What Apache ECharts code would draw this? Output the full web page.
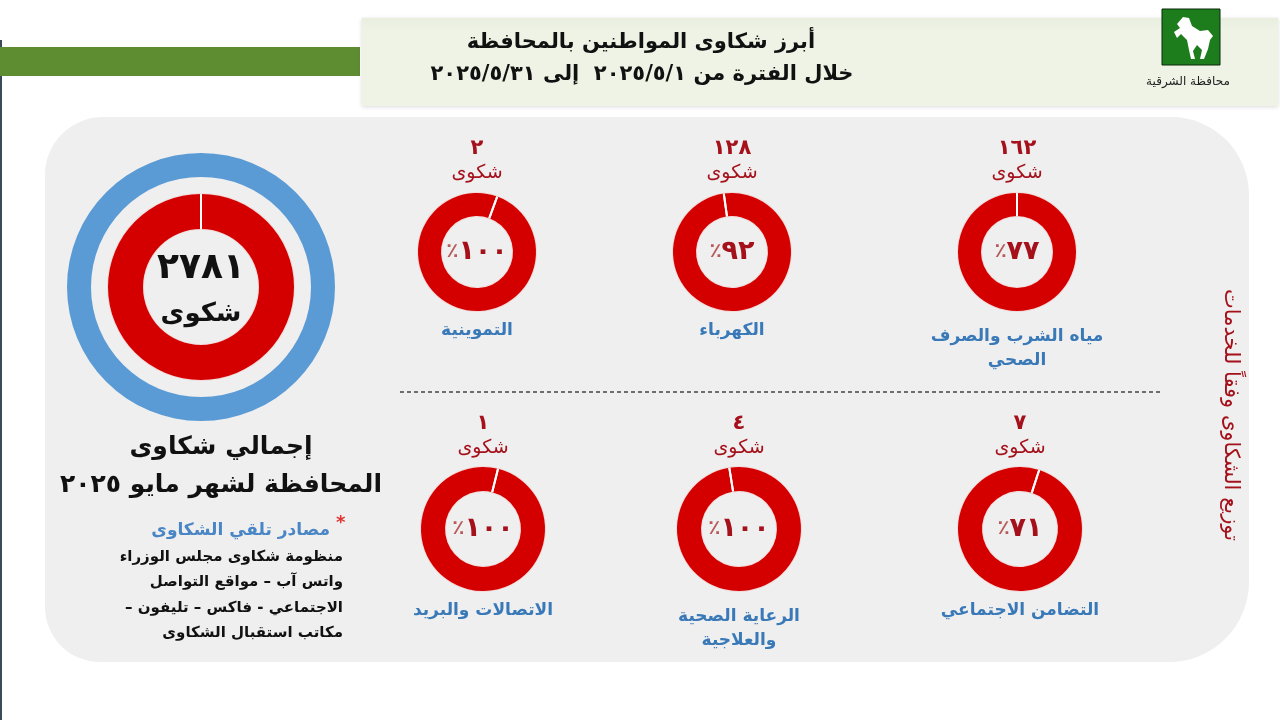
<!DOCTYPE html>
<html>
<head>
<meta charset="utf-8">
<script src="https://cdn.jsdelivr.net/npm/echarts@6/dist/echarts.min.js"></script>
<style>
html,body{margin:0;padding:0;background:#ffffff;}
#chart{width:1280px;height:720px;}
</style>
</head>
<body>
<div id="chart"></div>
<script>
// ---------- data ----------
const titleLine1 = 'أبرز شكاوى المواطنين بالمحافظة';
const titleLine2 = 'خلال الفترة من ٢٠٢٥/٥/١  إلى ٢٠٢٥/٥/٣١';
const logoText = 'محافظة الشرقية';
const categories = ['مياه الشرب والصرف\nالصحي', 'الكهرباء', 'التموينية', 'التضامن الاجتماعي', 'الرعاية الصحية\nوالعلاجية', 'الاتصالات والبريد'];
const complaintCounts = [162, 128, 2, 7, 4, 1];
const resolvedPct = [77, 92, 100, 71, 100, 100];
const totalComplaints = 2781;
const unitWord = 'شكوى';
const sideTitle = 'توزيع الشكاوى وفقاً للخدمات';
const totalTitle = 'إجمالي شكاوى\nالمحافظة لشهر مايو ٢٠٢٥';
const sourcesTitle = 'مصادر تلقي الشكاوى';
const sourcesLines = ['منظومة شكاوى مجلس الوزراء', 'واتس آب – مواقع التواصل', 'الاجتماعي - فاكس – تليفون –\u200F', 'مكاتب استقبال الشكاوى'];

// ---------- layout / style ----------
const AR = 'DejaVu Sans, Noto Sans, sans-serif';
const RED = '#d40000';
const DARKRED = '#a5111b';
const BLUE = '#3a79b8';
const slots = [
  {cx: 1017, cy: 252, r: 59, w: 23, sep: 0},
  {cx: 732, cy: 252, r: 59, w: 23, sep: -8},
  {cx: 477, cy: 252, r: 59, w: 23, sep: 20},
  {cx: 1020, cy: 529, r: 62, w: 24, sep: 18},
  {cx: 739, cy: 529, r: 62, w: 24, sep: -9},
  {cx: 483, cy: 529, r: 62, w: 24, sep: 14}
];
const toAr = n => String(n).replace(/\d/g, d => '٠١٢٣٤٥٦٧٨٩'[d]);

const series = [];
const graphics = [];

// background decorations
graphics.push({type: 'rect', z: -10, shape: {x: 0, y: 40, width: 2, height: 680}, style: {fill: '#3b4a5a'}});
graphics.push({type: 'rect', z: -10, shape: {x: 0, y: 47, width: 360, height: 29}, style: {fill: '#5e8c31'}});
graphics.push({type: 'rect', z: -10, shape: {x: 362, y: 18, width: 916, height: 88}, style: {
  fill: {type: 'linear', x: 0, y: 0, x2: 0, y2: 1, colorStops: [{offset: 0, color: '#e9efdf'}, {offset: 0.15, color: '#eef3e6'}, {offset: 1, color: '#eef3e6'}]},
  shadowBlur: 4, shadowColor: 'rgba(0,0,0,0.15)', shadowOffsetY: 1}});
graphics.push({type: 'rect', z: -10, shape: {x: 45, y: 117, width: 1204, height: 545, r: [58, 78, 80, 55]}, style: {fill: '#efefef'}});

// logo
graphics.push({type: 'rect', shape: {x: 1162, y: 9, width: 58, height: 56}, style: {fill: '#1d7d1d', stroke: '#0b2a0b', lineWidth: 1}});
graphics.push({type: 'polygon', x: 1162, y: 9, shape: {points: [[15,15],[21,8],[27,9],[30,17],[38,22],[46,21],[51,27],[48,31],[46,40],[42,50],[38,50],[40,41],[35,36],[31,42],[33,50],[29,50],[27,41],[25,31],[19,25],[15,29],[12,23],[18,19]]}, style: {fill: '#ffffff'}});
graphics.push({type: 'text', x: 1188, y: 82, style: {text: logoText, fill: '#222', fontSize: 12, fontFamily: AR, align: 'center', verticalAlign: 'middle'}});

// title
graphics.push({type: 'text', x: 641, y: 43, style: {text: titleLine1, fill: '#111', fontSize: 21, fontWeight: 'bold', fontFamily: AR, align: 'center', verticalAlign: 'middle'}});
graphics.push({type: 'text', x: 642, y: 75, style: {text: titleLine2, fill: '#111', fontSize: 21, fontWeight: 'bold', fontFamily: AR, align: 'center', verticalAlign: 'middle'}});

// separator
graphics.push({type: 'line', shape: {x1: 400, y1: 392, x2: 1160, y2: 392}, style: {stroke: '#444', lineWidth: 1.3, lineDash: [4, 3]}});

// side title
graphics.push({type: 'text', x: 1230, y: 415, rotation: -Math.PI / 2, style: {text: sideTitle, fill: DARKRED, fontSize: 21, fontFamily: AR, align: 'center', verticalAlign: 'middle'}});

// left panel texts
graphics.push({type: 'text', x: 221, y: 466, style: {text: totalTitle, fill: '#111', fontSize: 25, fontWeight: 'bold', fontFamily: AR, align: 'center', verticalAlign: 'middle', lineHeight: 38}});
graphics.push({type: 'text', x: 330, y: 531, style: {text: sourcesTitle, fill: '#4a86c5', fontSize: 17, fontWeight: 'bold', fontFamily: AR, align: 'right', verticalAlign: 'middle'}});
graphics.push({type: 'text', x: 336, y: 523, style: {text: '*', fill: '#e03030', fontSize: 18, fontWeight: 'bold', fontFamily: AR, align: 'left', verticalAlign: 'middle'}});
graphics.push({type: 'text', x: 343, y: 595, style: {text: sourcesLines.join('\n'), fill: '#111', fontSize: 15, fontWeight: 'bold', fontFamily: AR, align: 'right', verticalAlign: 'middle', lineHeight: 25.5}});

function ringGauge(cx, cy, r, w, color, sep, extra) {
  return Object.assign({
    type: 'gauge', center: [cx, cy], radius: r,
    startAngle: 90 - sep, endAngle: 90 - sep - 360, min: 0, max: 100, splitNumber: 1,
    axisLine: {lineStyle: {width: w, color: [[1, color]]}},
    axisTick: {show: false}, axisLabel: {show: false},
    splitLine: {show: false},
    pointer: {show: false}, progress: {show: false}, anchor: {show: false},
    title: {show: false}, detail: {show: false}, silent: true
  }, extra || {});
}

// big total donut
series.push(ringGauge(201, 287, 134, 24, '#5b9bd5', 0, {data: [{value: 100}]}));
series.push(ringGauge(201, 287, 94, 37, '#f2dada', 0, {data: [{value: 100}]}));
series.push(ringGauge(201, 287, 93, 35, RED, 0, {
  splitLine: {show: true, length: 35, distance: -35, lineStyle: {color: '#ffffff', width: 2}},
  detail: {show: true, offsetCenter: [0, 2], formatter: () => '{n|' + toAr(totalComplaints) + '}\n{s|' + unitWord + '}',
    rich: {n: {fontSize: 36, fontWeight: 'bold', color: '#111', fontFamily: AR, lineHeight: 50},
           s: {fontSize: 26, fontWeight: 'bold', color: '#111', fontFamily: AR, lineHeight: 40}}},
  data: [{value: 100}]
}));

// category donuts
categories.forEach((name, i) => {
  const s = slots[i];
  const nLines = name.split('\n').length;
  series.push(ringGauge(s.cx, s.cy, s.r + 1, s.w + 2, '#f2dada', 0, {data: [{value: 100}]}));
  series.push(ringGauge(s.cx, s.cy, s.r, s.w, RED, s.sep, {
    splitLine: {show: true, length: s.w, distance: -s.w, lineStyle: {color: '#ffffff', width: 2}},
    title: {show: true, offsetCenter: [0, (s.r + 20 + (nLines - 1) * 18)], color: BLUE, fontSize: 17, fontWeight: 'bold', fontFamily: AR, lineHeight: 24},
    detail: {show: true, offsetCenter: [0, 0], formatter: v => '{p|٪}{v|' + toAr(v) + '}',
      rich: {p: {fontSize: 20, color: '#b85a5a', fontFamily: AR},
             v: {fontSize: 27, fontWeight: 'bold', color: DARKRED, fontFamily: AR}}},
    data: [{value: resolvedPct[i], name: name}]
  }));
  graphics.push({type: 'text', x: s.cx, y: s.cy - s.r - 44 + (i >= 3 ? 1 : 0), style: {text: toAr(complaintCounts[i]), fill: DARKRED, fontSize: 21, fontWeight: 'bold', fontFamily: AR, align: 'center', verticalAlign: 'middle'}});
  graphics.push({type: 'text', x: s.cx, y: s.cy - s.r - 20 + (i >= 3 ? 1 : 0), style: {text: unitWord, fill: DARKRED, fontSize: 19, fontFamily: AR, align: 'center', verticalAlign: 'middle'}});
});

const chart = echarts.init(document.getElementById('chart'));
chart.setOption({
  backgroundColor: '#ffffff',
  animation: false,
  graphic: {elements: graphics},
  series: series
});
</script>
</body>
</html>
